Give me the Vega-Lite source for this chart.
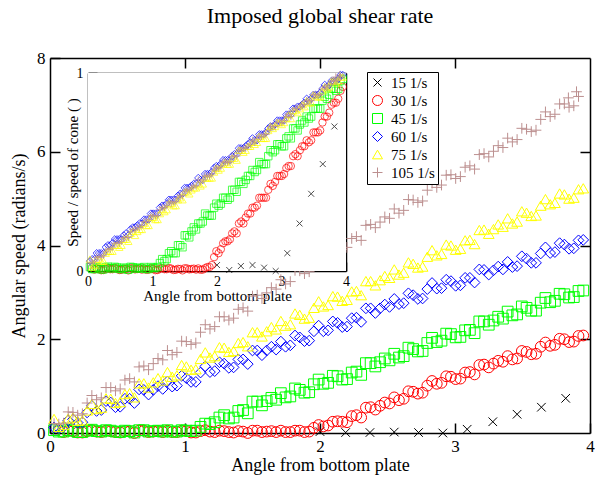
{
"$schema":"https://vega.github.io/schema/vega-lite/v6.json",
"width":540,"height":375,
"autosize":{"type":"none"},
"padding":{"left":50,"top":58,"right":10,"bottom":44},
"background":"white",
"title":{"text":"Imposed global shear rate","font":"Liberation Serif","fontSize":22,"fontWeight":"normal","color":"black","anchor":"middle","offset":21},
"config":{"view":{"stroke":null},"axis":{"domainColor":"black","domainWidth":1.5,"tickColor":"black","tickWidth":1.5,"labelFont":"Liberation Serif","titleFont":"Liberation Serif","labelColor":"black","titleColor":"black","titleFontWeight":"normal","grid":false,"zindex":1,"labelFlush":false,"labelOverlap":false}},
"data":{"values":[
{"s":"15 1/s","x":2.0,"v":0.03,"r":0.03},{"s":"15 1/s","x":2.19,"v":0.01,"r":0.005},{"s":"15 1/s","x":2.37,"v":0.01,"r":0.025},{"s":"15 1/s","x":2.55,"v":0.02,"r":0.03},{"s":"15 1/s","x":2.73,"v":0.01,"r":0.017},{"s":"15 1/s","x":2.91,"v":0.0,"r":0.0},{"s":"15 1/s","x":3.09,"v":0.08,"r":0.09},{"s":"15 1/s","x":3.28,"v":0.24,"r":0.24},{"s":"15 1/s","x":3.46,"v":0.40,"r":0.39},{"s":"15 1/s","x":3.64,"v":0.55,"r":0.54},{"s":"15 1/s","x":3.82,"v":0.74,"r":0.73},
{"s":"30 1/s","x":0.10,"v":0.02,"r":0.007},{"s":"30 1/s","x":0.17,"v":0.04,"r":0.011},{"s":"30 1/s","x":0.24,"v":0.01,"r":0.005},{"s":"30 1/s","x":0.31,"v":0.06,"r":0.015},{"s":"30 1/s","x":0.38,"v":0.02,"r":0.009},{"s":"30 1/s","x":0.45,"v":0.04,"r":0.012},{"s":"30 1/s","x":0.52,"v":0.01,"r":0.006},{"s":"30 1/s","x":0.59,"v":0.03,"r":0.01},{"s":"30 1/s","x":0.66,"v":0.05,"r":0.014},{"s":"30 1/s","x":0.73,"v":0.02,"r":0.008},{"s":"30 1/s","x":0.80,"v":0.04,"r":0.012},{"s":"30 1/s","x":0.87,"v":0.05,"r":0.013},{"s":"30 1/s","x":0.94,"v":0.02,"r":0.007},{"s":"30 1/s","x":1.01,"v":0.04,"r":0.011},{"s":"30 1/s","x":1.08,"v":0.01,"r":0.005},{"s":"30 1/s","x":1.15,"v":0.06,"r":0.015},{"s":"30 1/s","x":1.22,"v":0.02,"r":0.009},{"s":"30 1/s","x":1.29,"v":0.04,"r":0.012},{"s":"30 1/s","x":1.36,"v":0.01,"r":0.006},{"s":"30 1/s","x":1.43,"v":0.03,"r":0.01},{"s":"30 1/s","x":1.50,"v":0.05,"r":0.014},{"s":"30 1/s","x":1.57,"v":0.02,"r":0.008},{"s":"30 1/s","x":1.64,"v":0.04,"r":0.012},{"s":"30 1/s","x":1.71,"v":0.05,"r":0.013},{"s":"30 1/s","x":1.78,"v":0.02,"r":0.007},{"s":"30 1/s","x":1.85,"v":0.05,"r":0.02},{"s":"30 1/s","x":1.92,"v":0.03,"r":0.03},{"s":"30 1/s","x":1.99,"v":0.17,"r":0.10},{"s":"30 1/s","x":2.06,"v":0.16,"r":0.11},{"s":"30 1/s","x":2.13,"v":0.25,"r":0.15},{"s":"30 1/s","x":2.20,"v":0.23,"r":0.16},{"s":"30 1/s","x":2.27,"v":0.38,"r":0.20},{"s":"30 1/s","x":2.34,"v":0.54,"r":0.24},{"s":"30 1/s","x":2.41,"v":0.50,"r":0.24},{"s":"30 1/s","x":2.48,"v":0.65,"r":0.29},{"s":"30 1/s","x":2.55,"v":0.76,"r":0.32},{"s":"30 1/s","x":2.62,"v":0.73,"r":0.33},{"s":"30 1/s","x":2.69,"v":0.88,"r":0.37},{"s":"30 1/s","x":2.76,"v":0.86,"r":0.37},{"s":"30 1/s","x":2.83,"v":1.11,"r":0.44},{"s":"30 1/s","x":2.90,"v":1.07,"r":0.45},{"s":"30 1/s","x":2.97,"v":1.20,"r":0.48},{"s":"30 1/s","x":3.04,"v":1.16,"r":0.49},{"s":"30 1/s","x":3.11,"v":1.30,"r":0.53},{"s":"30 1/s","x":3.18,"v":1.45,"r":0.58},{"s":"30 1/s","x":3.25,"v":1.40,"r":0.58},{"s":"30 1/s","x":3.32,"v":1.54,"r":0.63},{"s":"30 1/s","x":3.39,"v":1.64,"r":0.66},{"s":"30 1/s","x":3.46,"v":1.59,"r":0.66},{"s":"30 1/s","x":3.53,"v":1.73,"r":0.70},{"s":"30 1/s","x":3.60,"v":1.69,"r":0.71},{"s":"30 1/s","x":3.67,"v":1.93,"r":0.78},{"s":"30 1/s","x":3.74,"v":1.88,"r":0.80},{"s":"30 1/s","x":3.81,"v":2.00,"r":0.85},{"s":"30 1/s","x":3.88,"v":1.95,"r":0.87},{"s":"30 1/s","x":3.95,"v":2.08,"r":0.93},
{"s":"30 1/s","x":0.135,"v":0.05,"r":0.014},{"s":"30 1/s","x":0.205,"v":0.01,"r":0.004},{"s":"30 1/s","x":0.275,"v":0.04,"r":0.012},{"s":"30 1/s","x":0.345,"v":0.03,"r":0.009},{"s":"30 1/s","x":0.415,"v":0.05,"r":0.015},{"s":"30 1/s","x":0.485,"v":0.02,"r":0.005},{"s":"30 1/s","x":0.555,"v":0.04,"r":0.011},{"s":"30 1/s","x":0.625,"v":0.0,"r":0.003},{"s":"30 1/s","x":0.695,"v":0.05,"r":0.013},{"s":"30 1/s","x":0.765,"v":0.03,"r":0.01},{"s":"30 1/s","x":0.835,"v":0.02,"r":0.007},{"s":"30 1/s","x":0.905,"v":0.02,"r":0.006},{"s":"30 1/s","x":0.975,"v":0.05,"r":0.014},{"s":"30 1/s","x":1.045,"v":0.01,"r":0.004},{"s":"30 1/s","x":1.115,"v":0.04,"r":0.012},{"s":"30 1/s","x":1.185,"v":0.03,"r":0.009},{"s":"30 1/s","x":1.255,"v":0.05,"r":0.015},{"s":"30 1/s","x":1.325,"v":0.02,"r":0.005},{"s":"30 1/s","x":1.395,"v":0.04,"r":0.011},{"s":"30 1/s","x":1.465,"v":0.0,"r":0.003},{"s":"30 1/s","x":1.535,"v":0.05,"r":0.013},{"s":"30 1/s","x":1.605,"v":0.03,"r":0.01},{"s":"30 1/s","x":1.675,"v":0.02,"r":0.007},{"s":"30 1/s","x":1.745,"v":0.02,"r":0.006},{"s":"30 1/s","x":1.815,"v":0.05,"r":0.014},{"s":"30 1/s","x":1.885,"v":0.02,"r":0.02},{"s":"30 1/s","x":1.955,"v":0.11,"r":0.07},{"s":"30 1/s","x":2.025,"v":0.14,"r":0.09},{"s":"30 1/s","x":2.095,"v":0.24,"r":0.14},{"s":"30 1/s","x":2.165,"v":0.24,"r":0.15},{"s":"30 1/s","x":2.235,"v":0.36,"r":0.19},{"s":"30 1/s","x":2.305,"v":0.33,"r":0.19},{"s":"30 1/s","x":2.375,"v":0.55,"r":0.25},{"s":"30 1/s","x":2.445,"v":0.58,"r":0.27},{"s":"30 1/s","x":2.515,"v":0.63,"r":0.29},{"s":"30 1/s","x":2.585,"v":0.70,"r":0.32},{"s":"30 1/s","x":2.655,"v":0.89,"r":0.37},{"s":"30 1/s","x":2.725,"v":0.84,"r":0.37},{"s":"30 1/s","x":2.795,"v":1.01,"r":0.41},{"s":"30 1/s","x":2.865,"v":1.05,"r":0.43},{"s":"30 1/s","x":2.935,"v":1.21,"r":0.48},{"s":"30 1/s","x":3.005,"v":1.15,"r":0.48},{"s":"30 1/s","x":3.075,"v":1.29,"r":0.52},{"s":"30 1/s","x":3.145,"v":1.25,"r":0.53},{"s":"30 1/s","x":3.215,"v":1.46,"r":0.59},{"s":"30 1/s","x":3.285,"v":1.48,"r":0.61},{"s":"30 1/s","x":3.355,"v":1.52,"r":0.63},{"s":"30 1/s","x":3.425,"v":1.57,"r":0.65},{"s":"30 1/s","x":3.495,"v":1.75,"r":0.70},{"s":"30 1/s","x":3.565,"v":1.68,"r":0.70},{"s":"30 1/s","x":3.635,"v":1.84,"r":0.75},{"s":"30 1/s","x":3.705,"v":1.86,"r":0.78},{"s":"30 1/s","x":3.775,"v":2.01,"r":0.84},{"s":"30 1/s","x":3.845,"v":1.94,"r":0.85},{"s":"30 1/s","x":3.915,"v":2.07,"r":0.91},
{"s":"45 1/s","x":0.03,"v":0.06,"r":0.02},{"s":"45 1/s","x":0.10,"v":0.03,"r":0.01},{"s":"45 1/s","x":0.17,"v":0.05,"r":0.016},{"s":"45 1/s","x":0.24,"v":0.02,"r":0.008},{"s":"45 1/s","x":0.31,"v":0.07,"r":0.022},{"s":"45 1/s","x":0.38,"v":0.03,"r":0.013},{"s":"45 1/s","x":0.45,"v":0.05,"r":0.018},{"s":"45 1/s","x":0.52,"v":0.02,"r":0.009},{"s":"45 1/s","x":0.59,"v":0.04,"r":0.015},{"s":"45 1/s","x":0.66,"v":0.06,"r":0.021},{"s":"45 1/s","x":0.73,"v":0.03,"r":0.011},{"s":"45 1/s","x":0.80,"v":0.05,"r":0.017},{"s":"45 1/s","x":0.87,"v":0.06,"r":0.02},{"s":"45 1/s","x":0.94,"v":0.03,"r":0.01},{"s":"45 1/s","x":1.01,"v":0.05,"r":0.016},{"s":"45 1/s","x":1.08,"v":0.05,"r":0.02},{"s":"45 1/s","x":1.15,"v":0.20,"r":0.06},{"s":"45 1/s","x":1.22,"v":0.23,"r":0.06},{"s":"45 1/s","x":1.29,"v":0.38,"r":0.10},{"s":"45 1/s","x":1.36,"v":0.33,"r":0.09},{"s":"45 1/s","x":1.43,"v":0.49,"r":0.13},{"s":"45 1/s","x":1.50,"v":0.67,"r":0.18},{"s":"45 1/s","x":1.57,"v":0.59,"r":0.17},{"s":"45 1/s","x":1.64,"v":0.75,"r":0.22},{"s":"45 1/s","x":1.71,"v":0.85,"r":0.24},{"s":"45 1/s","x":1.78,"v":0.78,"r":0.25},{"s":"45 1/s","x":1.85,"v":0.92,"r":0.28},{"s":"45 1/s","x":1.92,"v":0.87,"r":0.28},{"s":"45 1/s","x":1.99,"v":1.14,"r":0.34},{"s":"45 1/s","x":2.06,"v":1.07,"r":0.34},{"s":"45 1/s","x":2.13,"v":1.21,"r":0.37},{"s":"45 1/s","x":2.20,"v":1.15,"r":0.37},{"s":"45 1/s","x":2.27,"v":1.31,"r":0.41},{"s":"45 1/s","x":2.34,"v":1.49,"r":0.45},{"s":"45 1/s","x":2.41,"v":1.42,"r":0.44},{"s":"45 1/s","x":2.48,"v":1.59,"r":0.48},{"s":"45 1/s","x":2.55,"v":1.69,"r":0.51},{"s":"45 1/s","x":2.62,"v":1.64,"r":0.51},{"s":"45 1/s","x":2.69,"v":1.79,"r":0.54},{"s":"45 1/s","x":2.76,"v":1.75,"r":0.54},{"s":"45 1/s","x":2.83,"v":2.03,"r":0.61},{"s":"45 1/s","x":2.90,"v":1.97,"r":0.61},{"s":"45 1/s","x":2.97,"v":2.11,"r":0.64},{"s":"45 1/s","x":3.04,"v":2.05,"r":0.63},{"s":"45 1/s","x":3.11,"v":2.20,"r":0.68},{"s":"45 1/s","x":3.18,"v":2.38,"r":0.72},{"s":"45 1/s","x":3.25,"v":2.31,"r":0.71},{"s":"45 1/s","x":3.32,"v":2.48,"r":0.76},{"s":"45 1/s","x":3.39,"v":2.59,"r":0.78},{"s":"45 1/s","x":3.46,"v":2.53,"r":0.78},{"s":"45 1/s","x":3.53,"v":2.67,"r":0.82},{"s":"45 1/s","x":3.60,"v":2.61,"r":0.82},{"s":"45 1/s","x":3.67,"v":2.88,"r":0.88},{"s":"45 1/s","x":3.74,"v":2.82,"r":0.89},{"s":"45 1/s","x":3.81,"v":2.96,"r":0.92},{"s":"45 1/s","x":3.88,"v":2.90,"r":0.92},{"s":"45 1/s","x":3.95,"v":3.04,"r":0.97},
{"s":"45 1/s","x":0.065,"v":0.03,"r":0.01},{"s":"45 1/s","x":0.135,"v":0.06,"r":0.02},{"s":"45 1/s","x":0.205,"v":0.02,"r":0.008},{"s":"45 1/s","x":0.275,"v":0.05,"r":0.018},{"s":"45 1/s","x":0.345,"v":0.04,"r":0.014},{"s":"45 1/s","x":0.415,"v":0.06,"r":0.021},{"s":"45 1/s","x":0.485,"v":0.03,"r":0.011},{"s":"45 1/s","x":0.555,"v":0.05,"r":0.017},{"s":"45 1/s","x":0.625,"v":0.01,"r":0.006},{"s":"45 1/s","x":0.695,"v":0.06,"r":0.019},{"s":"45 1/s","x":0.765,"v":0.04,"r":0.015},{"s":"45 1/s","x":0.835,"v":0.03,"r":0.012},{"s":"45 1/s","x":0.905,"v":0.03,"r":0.01},{"s":"45 1/s","x":0.975,"v":0.06,"r":0.02},{"s":"45 1/s","x":1.045,"v":0.04,"r":0.015},{"s":"45 1/s","x":1.115,"v":0.13,"r":0.04},{"s":"45 1/s","x":1.185,"v":0.19,"r":0.05},{"s":"45 1/s","x":1.255,"v":0.33,"r":0.09},{"s":"45 1/s","x":1.325,"v":0.31,"r":0.09},{"s":"45 1/s","x":1.395,"v":0.47,"r":0.13},{"s":"45 1/s","x":1.465,"v":0.42,"r":0.12},{"s":"45 1/s","x":1.535,"v":0.67,"r":0.18},{"s":"45 1/s","x":1.605,"v":0.68,"r":0.20},{"s":"45 1/s","x":1.675,"v":0.71,"r":0.21},{"s":"45 1/s","x":1.745,"v":0.76,"r":0.24},{"s":"45 1/s","x":1.815,"v":0.95,"r":0.29},{"s":"45 1/s","x":1.885,"v":0.86,"r":0.28},{"s":"45 1/s","x":1.955,"v":1.04,"r":0.32},{"s":"45 1/s","x":2.025,"v":1.05,"r":0.33},{"s":"45 1/s","x":2.095,"v":1.22,"r":0.37},{"s":"45 1/s","x":2.165,"v":1.14,"r":0.36},{"s":"45 1/s","x":2.235,"v":1.29,"r":0.41},{"s":"45 1/s","x":2.305,"v":1.24,"r":0.40},{"s":"45 1/s","x":2.375,"v":1.49,"r":0.45},{"s":"45 1/s","x":2.445,"v":1.51,"r":0.46},{"s":"45 1/s","x":2.515,"v":1.55,"r":0.48},{"s":"45 1/s","x":2.585,"v":1.61,"r":0.50},{"s":"45 1/s","x":2.655,"v":1.82,"r":0.55},{"s":"45 1/s","x":2.725,"v":1.74,"r":0.54},{"s":"45 1/s","x":2.795,"v":1.92,"r":0.58},{"s":"45 1/s","x":2.865,"v":1.94,"r":0.60},{"s":"45 1/s","x":2.935,"v":2.12,"r":0.64},{"s":"45 1/s","x":3.005,"v":2.04,"r":0.63},{"s":"45 1/s","x":3.075,"v":2.19,"r":0.67},{"s":"45 1/s","x":3.145,"v":2.13,"r":0.67},{"s":"45 1/s","x":3.215,"v":2.38,"r":0.72},{"s":"45 1/s","x":3.285,"v":2.40,"r":0.74},{"s":"45 1/s","x":3.355,"v":2.44,"r":0.75},{"s":"45 1/s","x":3.425,"v":2.51,"r":0.77},{"s":"45 1/s","x":3.495,"v":2.70,"r":0.82},{"s":"45 1/s","x":3.565,"v":2.61,"r":0.82},{"s":"45 1/s","x":3.635,"v":2.78,"r":0.86},{"s":"45 1/s","x":3.705,"v":2.79,"r":0.87},{"s":"45 1/s","x":3.775,"v":2.97,"r":0.92},{"s":"45 1/s","x":3.845,"v":2.89,"r":0.91},{"s":"45 1/s","x":3.915,"v":3.03,"r":0.96},
{"s":"60 1/s","x":0.03,"v":0.12,"r":0.05},{"s":"60 1/s","x":0.10,"v":0.13,"r":0.06},{"s":"60 1/s","x":0.17,"v":0.29,"r":0.09},{"s":"60 1/s","x":0.24,"v":0.23,"r":0.09},{"s":"60 1/s","x":0.31,"v":0.58,"r":0.13},{"s":"60 1/s","x":0.38,"v":0.49,"r":0.14},{"s":"60 1/s","x":0.45,"v":0.65,"r":0.16},{"s":"60 1/s","x":0.52,"v":0.56,"r":0.16},{"s":"60 1/s","x":0.59,"v":0.73,"r":0.19},{"s":"60 1/s","x":0.66,"v":0.93,"r":0.21},{"s":"60 1/s","x":0.73,"v":0.82,"r":0.22},{"s":"60 1/s","x":0.80,"v":1.00,"r":0.24},{"s":"60 1/s","x":0.87,"v":1.10,"r":0.26},{"s":"60 1/s","x":0.94,"v":1.01,"r":0.26},{"s":"60 1/s","x":1.01,"v":1.17,"r":0.29},{"s":"60 1/s","x":1.08,"v":1.09,"r":0.29},{"s":"60 1/s","x":1.15,"v":1.42,"r":0.33},{"s":"60 1/s","x":1.22,"v":1.32,"r":0.34},{"s":"60 1/s","x":1.29,"v":1.48,"r":0.36},{"s":"60 1/s","x":1.36,"v":1.40,"r":0.36},{"s":"60 1/s","x":1.43,"v":1.57,"r":0.39},{"s":"60 1/s","x":1.50,"v":1.76,"r":0.42},{"s":"60 1/s","x":1.57,"v":1.66,"r":0.42},{"s":"60 1/s","x":1.64,"v":1.84,"r":0.44},{"s":"60 1/s","x":1.71,"v":1.95,"r":0.47},{"s":"60 1/s","x":1.78,"v":1.87,"r":0.46},{"s":"60 1/s","x":1.85,"v":2.04,"r":0.49},{"s":"60 1/s","x":1.92,"v":1.97,"r":0.50},{"s":"60 1/s","x":1.99,"v":2.29,"r":0.53},{"s":"60 1/s","x":2.06,"v":2.19,"r":0.54},{"s":"60 1/s","x":2.13,"v":2.35,"r":0.56},{"s":"60 1/s","x":2.20,"v":2.27,"r":0.56},{"s":"60 1/s","x":2.27,"v":2.46,"r":0.59},{"s":"60 1/s","x":2.34,"v":2.66,"r":0.62},{"s":"60 1/s","x":2.41,"v":2.56,"r":0.62},{"s":"60 1/s","x":2.48,"v":2.74,"r":0.64},{"s":"60 1/s","x":2.55,"v":2.86,"r":0.67},{"s":"60 1/s","x":2.62,"v":2.77,"r":0.66},{"s":"60 1/s","x":2.69,"v":2.94,"r":0.69},{"s":"60 1/s","x":2.76,"v":2.87,"r":0.70},{"s":"60 1/s","x":2.83,"v":3.20,"r":0.73},{"s":"60 1/s","x":2.90,"v":3.09,"r":0.74},{"s":"60 1/s","x":2.97,"v":3.24,"r":0.76},{"s":"60 1/s","x":3.04,"v":3.15,"r":0.76},{"s":"60 1/s","x":3.11,"v":3.31,"r":0.79},{"s":"60 1/s","x":3.18,"v":3.49,"r":0.82},{"s":"60 1/s","x":3.25,"v":3.38,"r":0.83},{"s":"60 1/s","x":3.32,"v":3.55,"r":0.84},{"s":"60 1/s","x":3.39,"v":3.65,"r":0.87},{"s":"60 1/s","x":3.46,"v":3.56,"r":0.87},{"s":"60 1/s","x":3.53,"v":3.72,"r":0.89},{"s":"60 1/s","x":3.60,"v":3.63,"r":0.90},{"s":"60 1/s","x":3.67,"v":3.96,"r":0.94},{"s":"60 1/s","x":3.74,"v":3.86,"r":0.94},{"s":"60 1/s","x":3.81,"v":4.02,"r":0.96},{"s":"60 1/s","x":3.88,"v":3.94,"r":0.97},{"s":"60 1/s","x":3.95,"v":4.12,"r":0.99},
{"s":"60 1/s","x":0.065,"v":0.10,"r":0.06},{"s":"60 1/s","x":0.135,"v":0.27,"r":0.09},{"s":"60 1/s","x":0.205,"v":0.22,"r":0.09},{"s":"60 1/s","x":0.275,"v":0.44,"r":0.12},{"s":"60 1/s","x":0.345,"v":0.47,"r":0.13},{"s":"60 1/s","x":0.415,"v":0.68,"r":0.16},{"s":"60 1/s","x":0.485,"v":0.55,"r":0.16},{"s":"60 1/s","x":0.555,"v":0.73,"r":0.18},{"s":"60 1/s","x":0.625,"v":0.64,"r":0.18},{"s":"60 1/s","x":0.695,"v":0.92,"r":0.22},{"s":"60 1/s","x":0.765,"v":0.92,"r":0.23},{"s":"60 1/s","x":0.835,"v":0.94,"r":0.24},{"s":"60 1/s","x":0.905,"v":0.99,"r":0.26},{"s":"60 1/s","x":0.975,"v":1.22,"r":0.29},{"s":"60 1/s","x":1.045,"v":1.09,"r":0.29},{"s":"60 1/s","x":1.115,"v":1.29,"r":0.32},{"s":"60 1/s","x":1.185,"v":1.30,"r":0.33},{"s":"60 1/s","x":1.255,"v":1.51,"r":0.36},{"s":"60 1/s","x":1.325,"v":1.39,"r":0.36},{"s":"60 1/s","x":1.395,"v":1.57,"r":0.38},{"s":"60 1/s","x":1.465,"v":1.47,"r":0.39},{"s":"60 1/s","x":1.535,"v":1.76,"r":0.42},{"s":"60 1/s","x":1.605,"v":1.76,"r":0.43},{"s":"60 1/s","x":1.675,"v":1.78,"r":0.44},{"s":"60 1/s","x":1.745,"v":1.84,"r":0.46},{"s":"60 1/s","x":1.815,"v":2.08,"r":0.49},{"s":"60 1/s","x":1.885,"v":1.96,"r":0.49},{"s":"60 1/s","x":1.955,"v":2.17,"r":0.52},{"s":"60 1/s","x":2.025,"v":2.17,"r":0.53},{"s":"60 1/s","x":2.095,"v":2.38,"r":0.56},{"s":"60 1/s","x":2.165,"v":2.26,"r":0.56},{"s":"60 1/s","x":2.235,"v":2.45,"r":0.58},{"s":"60 1/s","x":2.305,"v":2.37,"r":0.59},{"s":"60 1/s","x":2.375,"v":2.66,"r":0.62},{"s":"60 1/s","x":2.445,"v":2.66,"r":0.63},{"s":"60 1/s","x":2.515,"v":2.69,"r":0.65},{"s":"60 1/s","x":2.585,"v":2.75,"r":0.66},{"s":"60 1/s","x":2.655,"v":2.98,"r":0.69},{"s":"60 1/s","x":2.725,"v":2.86,"r":0.69},{"s":"60 1/s","x":2.795,"v":3.07,"r":0.72},{"s":"60 1/s","x":2.865,"v":3.08,"r":0.73},{"s":"60 1/s","x":2.935,"v":3.27,"r":0.76},{"s":"60 1/s","x":3.005,"v":3.14,"r":0.76},{"s":"60 1/s","x":3.075,"v":3.31,"r":0.79},{"s":"60 1/s","x":3.145,"v":3.21,"r":0.79},{"s":"60 1/s","x":3.215,"v":3.48,"r":0.82},{"s":"60 1/s","x":3.285,"v":3.47,"r":0.83},{"s":"60 1/s","x":3.355,"v":3.49,"r":0.85},{"s":"60 1/s","x":3.425,"v":3.54,"r":0.86},{"s":"60 1/s","x":3.495,"v":3.77,"r":0.89},{"s":"60 1/s","x":3.565,"v":3.63,"r":0.89},{"s":"60 1/s","x":3.635,"v":3.83,"r":0.92},{"s":"60 1/s","x":3.705,"v":3.84,"r":0.93},{"s":"60 1/s","x":3.775,"v":4.05,"r":0.96},{"s":"60 1/s","x":3.845,"v":3.93,"r":0.96},{"s":"60 1/s","x":3.915,"v":4.11,"r":0.99},
{"s":"75 1/s","x":0.03,"v":0.30,"r":0.06},{"s":"75 1/s","x":0.10,"v":0.17,"r":0.03},{"s":"75 1/s","x":0.17,"v":0.33,"r":0.06},{"s":"75 1/s","x":0.24,"v":0.27,"r":0.05},{"s":"75 1/s","x":0.31,"v":0.62,"r":0.10},{"s":"75 1/s","x":0.38,"v":0.54,"r":0.10},{"s":"75 1/s","x":0.45,"v":0.73,"r":0.13},{"s":"75 1/s","x":0.52,"v":0.66,"r":0.13},{"s":"75 1/s","x":0.59,"v":0.85,"r":0.16},{"s":"75 1/s","x":0.66,"v":1.06,"r":0.19},{"s":"75 1/s","x":0.73,"v":0.97,"r":0.18},{"s":"75 1/s","x":0.80,"v":1.17,"r":0.21},{"s":"75 1/s","x":0.87,"v":1.30,"r":0.24},{"s":"75 1/s","x":0.94,"v":1.23,"r":0.23},{"s":"75 1/s","x":1.01,"v":1.42,"r":0.27},{"s":"75 1/s","x":1.08,"v":1.36,"r":0.26},{"s":"75 1/s","x":1.15,"v":1.72,"r":0.31},{"s":"75 1/s","x":1.22,"v":1.64,"r":0.31},{"s":"75 1/s","x":1.29,"v":1.82,"r":0.34},{"s":"75 1/s","x":1.36,"v":1.75,"r":0.33},{"s":"75 1/s","x":1.43,"v":1.94,"r":0.37},{"s":"75 1/s","x":1.50,"v":2.15,"r":0.40},{"s":"75 1/s","x":1.57,"v":2.06,"r":0.39},{"s":"75 1/s","x":1.64,"v":2.26,"r":0.42},{"s":"75 1/s","x":1.71,"v":2.39,"r":0.44},{"s":"75 1/s","x":1.78,"v":2.32,"r":0.44},{"s":"75 1/s","x":1.85,"v":2.52,"r":0.47},{"s":"75 1/s","x":1.92,"v":2.46,"r":0.47},{"s":"75 1/s","x":1.99,"v":2.81,"r":0.52},{"s":"75 1/s","x":2.06,"v":2.73,"r":0.52},{"s":"75 1/s","x":2.13,"v":2.91,"r":0.55},{"s":"75 1/s","x":2.20,"v":2.84,"r":0.54},{"s":"75 1/s","x":2.27,"v":3.03,"r":0.57},{"s":"75 1/s","x":2.34,"v":3.24,"r":0.61},{"s":"75 1/s","x":2.41,"v":3.15,"r":0.60},{"s":"75 1/s","x":2.48,"v":3.35,"r":0.63},{"s":"75 1/s","x":2.55,"v":3.49,"r":0.65},{"s":"75 1/s","x":2.62,"v":3.42,"r":0.65},{"s":"75 1/s","x":2.69,"v":3.61,"r":0.67},{"s":"75 1/s","x":2.76,"v":3.55,"r":0.67},{"s":"75 1/s","x":2.83,"v":3.90,"r":0.73},{"s":"75 1/s","x":2.90,"v":3.82,"r":0.73},{"s":"75 1/s","x":2.97,"v":4.00,"r":0.75},{"s":"75 1/s","x":3.04,"v":3.93,"r":0.75},{"s":"75 1/s","x":3.11,"v":4.12,"r":0.79},{"s":"75 1/s","x":3.18,"v":4.33,"r":0.81},{"s":"75 1/s","x":3.25,"v":4.25,"r":0.80},{"s":"75 1/s","x":3.32,"v":4.45,"r":0.84},{"s":"75 1/s","x":3.39,"v":4.58,"r":0.86},{"s":"75 1/s","x":3.46,"v":4.51,"r":0.85},{"s":"75 1/s","x":3.53,"v":4.70,"r":0.88},{"s":"75 1/s","x":3.60,"v":4.64,"r":0.88},{"s":"75 1/s","x":3.67,"v":4.99,"r":0.93},{"s":"75 1/s","x":3.74,"v":4.91,"r":0.93},{"s":"75 1/s","x":3.81,"v":5.09,"r":0.96},{"s":"75 1/s","x":3.88,"v":5.02,"r":0.96},{"s":"75 1/s","x":3.95,"v":5.22,"r":0.98},
{"s":"75 1/s","x":0.065,"v":0.13,"r":0.02},{"s":"75 1/s","x":0.135,"v":0.31,"r":0.06},{"s":"75 1/s","x":0.205,"v":0.26,"r":0.05},{"s":"75 1/s","x":0.275,"v":0.48,"r":0.09},{"s":"75 1/s","x":0.345,"v":0.51,"r":0.10},{"s":"75 1/s","x":0.415,"v":0.74,"r":0.13},{"s":"75 1/s","x":0.485,"v":0.64,"r":0.12},{"s":"75 1/s","x":0.555,"v":0.83,"r":0.16},{"s":"75 1/s","x":0.625,"v":0.76,"r":0.15},{"s":"75 1/s","x":0.695,"v":1.06,"r":0.20},{"s":"75 1/s","x":0.765,"v":1.08,"r":0.20},{"s":"75 1/s","x":0.835,"v":1.12,"r":0.21},{"s":"75 1/s","x":0.905,"v":1.20,"r":0.23},{"s":"75 1/s","x":0.975,"v":1.45,"r":0.27},{"s":"75 1/s","x":1.045,"v":1.35,"r":0.26},{"s":"75 1/s","x":1.115,"v":1.58,"r":0.29},{"s":"75 1/s","x":1.185,"v":1.61,"r":0.30},{"s":"75 1/s","x":1.255,"v":1.83,"r":0.34},{"s":"75 1/s","x":1.325,"v":1.73,"r":0.33},{"s":"75 1/s","x":1.395,"v":1.92,"r":0.36},{"s":"75 1/s","x":1.465,"v":1.85,"r":0.36},{"s":"75 1/s","x":1.535,"v":2.15,"r":0.40},{"s":"75 1/s","x":1.605,"v":2.17,"r":0.41},{"s":"75 1/s","x":1.675,"v":2.21,"r":0.42},{"s":"75 1/s","x":1.745,"v":2.29,"r":0.43},{"s":"75 1/s","x":1.815,"v":2.55,"r":0.47},{"s":"75 1/s","x":1.885,"v":2.44,"r":0.47},{"s":"75 1/s","x":1.955,"v":2.67,"r":0.50},{"s":"75 1/s","x":2.025,"v":2.70,"r":0.51},{"s":"75 1/s","x":2.095,"v":2.92,"r":0.54},{"s":"75 1/s","x":2.165,"v":2.82,"r":0.54},{"s":"75 1/s","x":2.235,"v":3.02,"r":0.57},{"s":"75 1/s","x":2.305,"v":2.94,"r":0.56},{"s":"75 1/s","x":2.375,"v":3.24,"r":0.61},{"s":"75 1/s","x":2.445,"v":3.26,"r":0.61},{"s":"75 1/s","x":2.515,"v":3.31,"r":0.63},{"s":"75 1/s","x":2.585,"v":3.38,"r":0.64},{"s":"75 1/s","x":2.655,"v":3.64,"r":0.68},{"s":"75 1/s","x":2.725,"v":3.53,"r":0.67},{"s":"75 1/s","x":2.795,"v":3.76,"r":0.71},{"s":"75 1/s","x":2.865,"v":3.79,"r":0.72},{"s":"75 1/s","x":2.935,"v":4.02,"r":0.75},{"s":"75 1/s","x":3.005,"v":3.91,"r":0.74},{"s":"75 1/s","x":3.075,"v":4.11,"r":0.77},{"s":"75 1/s","x":3.145,"v":4.03,"r":0.77},{"s":"75 1/s","x":3.215,"v":4.34,"r":0.81},{"s":"75 1/s","x":3.285,"v":4.35,"r":0.82},{"s":"75 1/s","x":3.355,"v":4.40,"r":0.83},{"s":"75 1/s","x":3.425,"v":4.47,"r":0.85},{"s":"75 1/s","x":3.495,"v":4.73,"r":0.89},{"s":"75 1/s","x":3.565,"v":4.63,"r":0.88},{"s":"75 1/s","x":3.635,"v":4.85,"r":0.91},{"s":"75 1/s","x":3.705,"v":4.88,"r":0.92},{"s":"75 1/s","x":3.775,"v":5.11,"r":0.96},{"s":"75 1/s","x":3.845,"v":5.00,"r":0.95},{"s":"75 1/s","x":3.915,"v":5.20,"r":0.98},
{"s":"105 1/s","x":0.03,"v":0.20,"r":0.04},{"s":"105 1/s","x":0.10,"v":0.21,"r":0.05},{"s":"105 1/s","x":0.17,"v":0.44,"r":0.07},{"s":"105 1/s","x":0.24,"v":0.41,"r":0.08},{"s":"105 1/s","x":0.31,"v":0.80,"r":0.11},{"s":"105 1/s","x":0.38,"v":0.75,"r":0.12},{"s":"105 1/s","x":0.45,"v":0.97,"r":0.14},{"s":"105 1/s","x":0.52,"v":0.94,"r":0.15},{"s":"105 1/s","x":0.59,"v":1.16,"r":0.17},{"s":"105 1/s","x":0.66,"v":1.41,"r":0.20},{"s":"105 1/s","x":0.73,"v":1.35,"r":0.21},{"s":"105 1/s","x":0.80,"v":1.59,"r":0.22},{"s":"105 1/s","x":0.87,"v":1.76,"r":0.25},{"s":"105 1/s","x":0.94,"v":1.72,"r":0.26},{"s":"105 1/s","x":1.01,"v":1.95,"r":0.28},{"s":"105 1/s","x":1.08,"v":1.92,"r":0.28},{"s":"105 1/s","x":1.15,"v":2.31,"r":0.32},{"s":"105 1/s","x":1.22,"v":2.27,"r":0.33},{"s":"105 1/s","x":1.29,"v":2.48,"r":0.34},{"s":"105 1/s","x":1.36,"v":2.45,"r":0.35},{"s":"105 1/s","x":1.43,"v":2.67,"r":0.38},{"s":"105 1/s","x":1.50,"v":2.92,"r":0.40},{"s":"105 1/s","x":1.57,"v":2.87,"r":0.41},{"s":"105 1/s","x":1.64,"v":3.10,"r":0.43},{"s":"105 1/s","x":1.71,"v":3.27,"r":0.46},{"s":"105 1/s","x":1.78,"v":3.23,"r":0.46},{"s":"105 1/s","x":1.85,"v":3.46,"r":0.48},{"s":"105 1/s","x":1.92,"v":3.44,"r":0.49},{"s":"105 1/s","x":1.99,"v":3.82,"r":0.52},{"s":"105 1/s","x":2.06,"v":3.78,"r":0.53},{"s":"105 1/s","x":2.13,"v":3.99,"r":0.55},{"s":"105 1/s","x":2.20,"v":3.96,"r":0.55},{"s":"105 1/s","x":2.27,"v":4.19,"r":0.58},{"s":"105 1/s","x":2.34,"v":4.43,"r":0.61},{"s":"105 1/s","x":2.41,"v":4.38,"r":0.62},{"s":"105 1/s","x":2.48,"v":4.61,"r":0.63},{"s":"105 1/s","x":2.55,"v":4.78,"r":0.66},{"s":"105 1/s","x":2.62,"v":4.75,"r":0.67},{"s":"105 1/s","x":2.69,"v":4.97,"r":0.68},{"s":"105 1/s","x":2.76,"v":4.95,"r":0.69},{"s":"105 1/s","x":2.83,"v":5.33,"r":0.73},{"s":"105 1/s","x":2.90,"v":5.29,"r":0.73},{"s":"105 1/s","x":2.97,"v":5.51,"r":0.75},{"s":"105 1/s","x":3.04,"v":5.47,"r":0.76},{"s":"105 1/s","x":3.11,"v":5.70,"r":0.79},{"s":"105 1/s","x":3.18,"v":5.94,"r":0.81},{"s":"105 1/s","x":3.25,"v":5.89,"r":0.82},{"s":"105 1/s","x":3.32,"v":6.13,"r":0.84},{"s":"105 1/s","x":3.39,"v":6.29,"r":0.86},{"s":"105 1/s","x":3.46,"v":6.26,"r":0.86},{"s":"105 1/s","x":3.53,"v":6.48,"r":0.89},{"s":"105 1/s","x":3.60,"v":6.46,"r":0.89},{"s":"105 1/s","x":3.67,"v":6.85,"r":0.93},{"s":"105 1/s","x":3.74,"v":6.80,"r":0.94},{"s":"105 1/s","x":3.81,"v":7.02,"r":0.96},{"s":"105 1/s","x":3.88,"v":6.98,"r":0.97},{"s":"105 1/s","x":3.84,"v":7.15,"r":0.98},{"s":"105 1/s","x":3.90,"v":7.28,"r":0.99},
{"s":"105 1/s","x":0.065,"v":0.19,"r":0.04},{"s":"105 1/s","x":0.135,"v":0.45,"r":0.07},{"s":"105 1/s","x":0.205,"v":0.38,"r":0.07},{"s":"105 1/s","x":0.275,"v":0.64,"r":0.10},{"s":"105 1/s","x":0.345,"v":0.71,"r":0.11},{"s":"105 1/s","x":0.415,"v":0.97,"r":0.14},{"s":"105 1/s","x":0.485,"v":0.90,"r":0.14},{"s":"105 1/s","x":0.555,"v":1.13,"r":0.17},{"s":"105 1/s","x":0.625,"v":1.09,"r":0.17},{"s":"105 1/s","x":0.695,"v":1.43,"r":0.21},{"s":"105 1/s","x":0.765,"v":1.48,"r":0.22},{"s":"105 1/s","x":0.835,"v":1.56,"r":0.23},{"s":"105 1/s","x":0.905,"v":1.67,"r":0.25},{"s":"105 1/s","x":0.975,"v":1.96,"r":0.28},{"s":"105 1/s","x":1.045,"v":1.89,"r":0.28},{"s":"105 1/s","x":1.115,"v":2.15,"r":0.31},{"s":"105 1/s","x":1.185,"v":2.22,"r":0.32},{"s":"105 1/s","x":1.255,"v":2.48,"r":0.35},{"s":"105 1/s","x":1.325,"v":2.41,"r":0.35},{"s":"105 1/s","x":1.395,"v":2.64,"r":0.37},{"s":"105 1/s","x":1.465,"v":2.60,"r":0.38},{"s":"105 1/s","x":1.535,"v":2.94,"r":0.41},{"s":"105 1/s","x":1.605,"v":2.99,"r":0.42},{"s":"105 1/s","x":1.675,"v":3.07,"r":0.43},{"s":"105 1/s","x":1.745,"v":3.18,"r":0.45},{"s":"105 1/s","x":1.815,"v":3.47,"r":0.48},{"s":"105 1/s","x":1.885,"v":3.40,"r":0.48},{"s":"105 1/s","x":1.955,"v":3.66,"r":0.51},{"s":"105 1/s","x":2.025,"v":3.73,"r":0.52},{"s":"105 1/s","x":2.095,"v":3.99,"r":0.55},{"s":"105 1/s","x":2.165,"v":3.92,"r":0.55},{"s":"105 1/s","x":2.235,"v":4.15,"r":0.58},{"s":"105 1/s","x":2.305,"v":4.11,"r":0.58},{"s":"105 1/s","x":2.375,"v":4.45,"r":0.61},{"s":"105 1/s","x":2.445,"v":4.50,"r":0.62},{"s":"105 1/s","x":2.515,"v":4.58,"r":0.64},{"s":"105 1/s","x":2.585,"v":4.69,"r":0.65},{"s":"105 1/s","x":2.655,"v":4.98,"r":0.68},{"s":"105 1/s","x":2.725,"v":4.92,"r":0.69},{"s":"105 1/s","x":2.795,"v":5.18,"r":0.71},{"s":"105 1/s","x":2.865,"v":5.24,"r":0.73},{"s":"105 1/s","x":2.935,"v":5.50,"r":0.75},{"s":"105 1/s","x":3.005,"v":5.43,"r":0.75},{"s":"105 1/s","x":3.075,"v":5.67,"r":0.78},{"s":"105 1/s","x":3.145,"v":5.63,"r":0.78},{"s":"105 1/s","x":3.215,"v":5.96,"r":0.82},{"s":"105 1/s","x":3.285,"v":6.01,"r":0.83},{"s":"105 1/s","x":3.355,"v":6.09,"r":0.84},{"s":"105 1/s","x":3.425,"v":6.21,"r":0.86},{"s":"105 1/s","x":3.495,"v":6.50,"r":0.89},{"s":"105 1/s","x":3.565,"v":6.43,"r":0.89},{"s":"105 1/s","x":3.635,"v":6.69,"r":0.92},{"s":"105 1/s","x":3.705,"v":6.75,"r":0.93},{"s":"105 1/s","x":3.775,"v":7.02,"r":0.96},{"s":"105 1/s","x":3.845,"v":6.95,"r":0.96},{"s":"105 1/s","x":3.915,"v":7.18,"r":0.98}
]},
"layer":[
{"mark":{"type":"point","filled":false,"size":115,"strokeWidth":1,"opacity":1},
 "encoding":{
  "x":{"field":"x","type":"quantitative","scale":{"domain":[0,4],"nice":false,"zero":false},"axis":{"orient":"bottom","values":[0,1,2,3,4],"format":"d","tickSize":-10,"labelPadding":15,"labelFontSize":17,"title":"Angle from bottom plate","titleFontSize":18,"titlePadding":2}},
  "y":{"field":"v","type":"quantitative","scale":{"domain":[0,8],"nice":false,"zero":false},"axis":{"orient":"left","values":[0,2,4,6,8],"format":"d","tickSize":-10,"labelPadding":15,"labelFontSize":17,"title":"Angular speed (radians/s)","titleFontSize":18,"titlePadding":8}},
  "color":{"field":"s","type":"nominal","scale":{"domain":["15 1/s","30 1/s","45 1/s","60 1/s","75 1/s","105 1/s"],"range":["#000000","#ff0000","#00ff00","#0000ff","#ffff00","#bc8f8f"]},"legend":{"title":null,"orient":"none","legendX":317,"legendY":14,"labelFont":"Liberation Serif","labelFontSize":15,"labelColor":"black","fillColor":"white","strokeColor":"black","padding":3,"rowPadding":2,"symbolSize":100,"symbolStrokeWidth":1,"labelOffset":6,"zindex":2}},
  "shape":{"field":"s","type":"nominal","scale":{"domain":["15 1/s","30 1/s","45 1/s","60 1/s","75 1/s","105 1/s"],"range":["M-0.8,-0.8L0.8,0.8M-0.8,0.8L0.8,-0.8","circle","square","diamond","triangle-up","M-1,0L1,0M0,-1L0,1"]},"legend":{"title":null,"orient":"none","legendX":317,"legendY":14,"labelFont":"Liberation Serif","labelFontSize":15,"labelColor":"black","fillColor":"white","strokeColor":"black","padding":3,"rowPadding":2,"symbolSize":100,"symbolStrokeWidth":1,"labelOffset":6,"zindex":2}}
 }},
{"mark":{"type":"point","opacity":0},
 "encoding":{
  "x":{"field":"x","type":"quantitative","scale":{"domain":[0,4],"nice":false,"zero":false},"axis":{"orient":"top","values":[1,2,3],"labels":false,"title":null,"tickSize":-10}},
  "y":{"field":"v","type":"quantitative","scale":{"domain":[0,8],"nice":false,"zero":false},"axis":{"orient":"right","values":[2,4,6],"labels":false,"title":null,"tickSize":-10}}
 }},
{"layer":[
  {"data":{"values":[{}]},"mark":{"type":"rect","fill":"white"},
   "encoding":{
    "x":{"datum":0,"type":"quantitative","scale":{"domain":[0,4],"range":[38,296],"nice":false,"zero":false},"axis":{"orient":"bottom","offset":-162,"values":[0,1,2,3,4],"format":"d","tickSize":-9,"labelPadding":12,"labelFontSize":14,"title":"Angle from bottom plate","titleFontSize":15,"titlePadding":0}},
    "x2":{"datum":4},
    "y":{"datum":0,"type":"quantitative","scale":{"domain":[0,1],"range":[213,15],"nice":false,"zero":false},"axis":{"orient":"left","offset":-38,"values":[0,0.5,1],"format":"d","tickSize":-9,"labelPadding":14,"labelFontSize":14,"labelExpr":"datum.value == 0.5 ? '' : datum.label","title":"Speed / speed of cone ( )","titleFontSize":15,"titlePadding":-4}},
    "y2":{"datum":1}
   }},
  {"mark":{"type":"point","filled":false,"size":55,"strokeWidth":1},
   "encoding":{
    "x":{"field":"x","type":"quantitative","scale":{"domain":[0,4],"range":[38,296],"nice":false,"zero":false},"axis":{"orient":"bottom","offset":-162,"values":[0,1,2,3,4],"format":"d","tickSize":-9,"labelPadding":12,"labelFontSize":14,"title":"Angle from bottom plate","titleFontSize":15,"titlePadding":0}},
    "y":{"field":"r","type":"quantitative","scale":{"domain":[0,1],"range":[213,15],"nice":false,"zero":false},"axis":{"orient":"left","offset":-38,"values":[0,0.5,1],"format":"d","tickSize":-9,"labelPadding":14,"labelFontSize":14,"labelExpr":"datum.value == 0.5 ? '' : datum.label","title":"Speed / speed of cone ( )","titleFontSize":15,"titlePadding":-4}},
    "color":{"field":"s","type":"nominal"},
    "shape":{"field":"s","type":"nominal"}
   }}
 ]},
{"mark":{"type":"point","opacity":0},
 "encoding":{
  "x":{"field":"x","type":"quantitative","scale":{"domain":[0,4],"range":[38,296],"nice":false,"zero":false},"axis":{"orient":"top","offset":-15,"values":[1,2,3],"labels":false,"title":null,"tickSize":-9}},
  "y":{"field":"r","type":"quantitative","scale":{"domain":[0,1],"range":[213,15],"nice":false,"zero":false},"axis":{"orient":"right","offset":-244,"values":[0.5],"labels":false,"title":null,"tickSize":-9}}
 }}
],
"resolve":{"scale":{"x":"independent","y":"independent"},"axis":{"x":"independent","y":"independent"}}
}
